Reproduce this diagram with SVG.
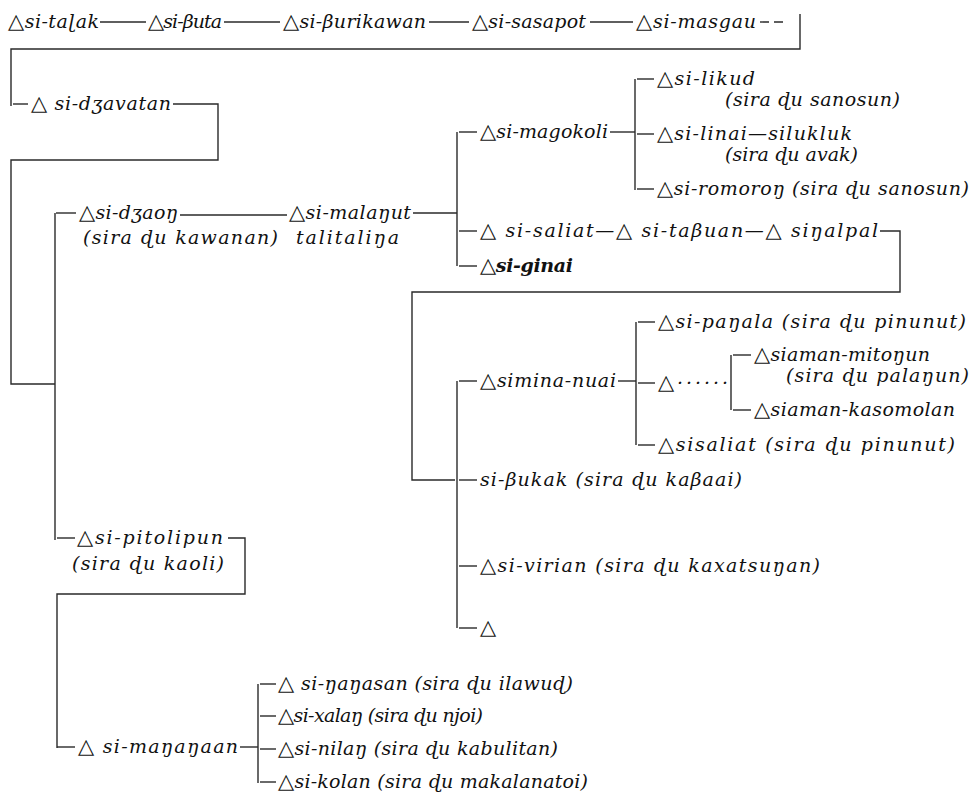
<svg xmlns="http://www.w3.org/2000/svg" width="980" height="796" viewBox="0 0 980 796">
<style>
text{font-family:"DejaVu Serif","Liberation Serif",serif;font-style:italic;font-size:19px;fill:#111111;}
.b{font-weight:bold;}
.t{font-style:normal;font-weight:normal;font-size:21px;font-family:"DejaVu Sans",sans-serif;}
line,polyline{stroke:#2a2a2a;stroke-width:1.4;fill:none;}
</style>
<rect width="980" height="796" fill="#ffffff"/>
<g id="connectors">
<line x1="100" y1="22" x2="146" y2="22"/>
<line x1="224" y1="22" x2="280" y2="22"/>
<line x1="429" y1="22" x2="469" y2="22"/>
<line x1="590" y1="22" x2="633" y2="22"/>
<line x1="760" y1="22" x2="786" y2="22" stroke-dasharray="9 5"/>
<polyline points="800,14 800,49 11,49 11,106"/>
<line x1="13" y1="104" x2="28" y2="104"/>
<polyline points="173,104 218,104 218,160 11,160 11,384 55,384"/>
<line x1="55" y1="213" x2="55" y2="540"/>
<line x1="56" y1="213" x2="76" y2="213"/>
<line x1="180" y1="215" x2="287" y2="215"/>
<line x1="413" y1="213" x2="457" y2="213"/>
<line x1="457" y1="132" x2="457" y2="266"/>
<line x1="459" y1="132" x2="477" y2="132"/>
<line x1="610" y1="132" x2="635" y2="132"/>
<line x1="635" y1="79" x2="635" y2="190"/>
<line x1="637" y1="79" x2="654" y2="79"/>
<line x1="637" y1="134" x2="654" y2="134"/>
<line x1="637" y1="189" x2="654" y2="189"/>
<line x1="459" y1="231" x2="477" y2="231"/>
<polyline points="880,231 900,231 900,292 412,292 412,480 455,480"/>
<line x1="459" y1="266" x2="477" y2="266"/>
<line x1="457" y1="381" x2="457" y2="628"/>
<line x1="459" y1="381" x2="477" y2="381"/>
<line x1="618" y1="381" x2="636" y2="381"/>
<line x1="636" y1="322" x2="636" y2="445"/>
<line x1="638" y1="322" x2="655" y2="322"/>
<line x1="638" y1="383" x2="655" y2="383"/>
<line x1="638" y1="445" x2="655" y2="445"/>
<line x1="731" y1="355" x2="731" y2="410"/>
<line x1="733" y1="355" x2="751" y2="355"/>
<line x1="733" y1="410" x2="751" y2="410"/>
<line x1="459" y1="480" x2="477" y2="480"/>
<line x1="459" y1="566" x2="477" y2="566"/>
<line x1="459" y1="628" x2="477" y2="628"/>
<line x1="57" y1="538" x2="75" y2="538"/>
<polyline points="228,538 245,538 245,594 57,594 57,748"/>
<line x1="57" y1="747" x2="75" y2="747"/>
<line x1="240" y1="747" x2="258" y2="747"/>
<line x1="258" y1="684" x2="258" y2="783"/>
<line x1="260" y1="684" x2="276" y2="684"/>
<line x1="260" y1="716" x2="276" y2="716"/>
<line x1="260" y1="749" x2="276" y2="749"/>
<line x1="260" y1="782" x2="276" y2="782"/>
</g>
<g id="n-talak"><text x="8" y="28" textLength="91"><tspan class="t">△</tspan>si-taɭak</text></g>
<g id="n-buta"><text x="148" y="28" textLength="74"><tspan class="t">△</tspan>si-βuta</text></g>
<g id="n-burikawan"><text x="283" y="28" textLength="143"><tspan class="t">△</tspan>si-βurikawan</text></g>
<g id="n-sasapot"><text x="472" y="28" textLength="114"><tspan class="t">△</tspan>si-sasapot</text></g>
<g id="n-masgau"><text x="636" y="28" textLength="120"><tspan class="t">△</tspan>si-masgau</text></g>
<g id="n-dzavatan"><text x="31" y="110" textLength="140"><tspan class="t">△</tspan> si-dʒavatan</text></g>
<g id="n-dzaon"><text x="79" y="219" textLength="99"><tspan class="t">△</tspan>si-dʒaoŋ</text><text x="83" y="244" textLength="195">(sira ɖu kawanan)</text></g>
<g id="n-malanut"><text x="289" y="219" textLength="122"><tspan class="t">△</tspan>si-malaŋut</text><text x="296" y="244" textLength="103">talitaliŋa</text></g>
<g id="n-magokoli"><text x="480" y="138" textLength="128"><tspan class="t">△</tspan>si-magokoli</text></g>
<g id="n-likud"><text x="657" y="85" textLength="98"><tspan class="t">△</tspan>si-likud</text><text x="725" y="106" textLength="175">(sira ɖu sanosun)</text></g>
<g id="n-linai"><text x="657" y="140" textLength="195"><tspan class="t">△</tspan>si-linai—silukluk</text><text x="725" y="161" textLength="133">(sira ɖu avak)</text></g>
<g id="n-romoron"><text x="657" y="195" textLength="312"><tspan class="t">△</tspan>si-romoroŋ (sira ɖu sanosun)</text></g>
<g id="n-saliat"><text x="480" y="237" textLength="398"><tspan class="t">△</tspan> si-saliat—<tspan class="t">△</tspan> si-taβuan—<tspan class="t">△</tspan> siŋalpal</text></g>
<g id="n-ginai"><text class="b" x="480" y="272" textLength="93"><tspan class="t">△</tspan>si-ginai</text></g>
<g id="n-simina"><text x="480" y="387" textLength="136"><tspan class="t">△</tspan>simina-nuai</text></g>
<g id="n-panala"><text x="658" y="328" textLength="308"><tspan class="t">△</tspan>si-paŋala (sira ɖu pinunut)</text></g>
<g id="n-dots"><text x="658" y="389" textLength="70"><tspan class="t">△</tspan>······</text></g>
<g id="n-mitonun"><text x="754" y="361" textLength="176"><tspan class="t">△</tspan>siaman-mitoŋun</text><text x="786" y="382" textLength="183">(sira ɖu palaŋun)</text></g>
<g id="n-kasomolan"><text x="754" y="416" textLength="201"><tspan class="t">△</tspan>siaman-kasomolan</text></g>
<g id="n-sisaliat"><text x="658" y="451" textLength="297"><tspan class="t">△</tspan>sisaliat (sira ɖu pinunut)</text></g>
<g id="n-bukak"><text x="480" y="486" textLength="262">si-βukak (sira ɖu kaβaai)</text></g>
<g id="n-virian"><text x="480" y="572" textLength="340"><tspan class="t">△</tspan>si-virian (sira ɖu kaxatsuŋan)</text></g>
<g id="n-tri"><text x="480" y="634"><tspan class="t">△</tspan></text></g>
<g id="n-pitolipun"><text x="77" y="544" textLength="146"><tspan class="t">△</tspan>si-pitolipun</text><text x="72" y="570" textLength="152">(sira ɖu kaoli)</text></g>
<g id="n-mananaan"><text x="78" y="753" textLength="160"><tspan class="t">△</tspan> si-maŋaŋaan</text></g>
<g id="n-nanasan"><text x="278" y="690" textLength="295"><tspan class="t">△</tspan> si-ŋaŋasan (sira ɖu ilawuɖ)</text></g>
<g id="n-xalan"><text x="278" y="722" textLength="205"><tspan class="t">△</tspan>si-xalaŋ (sira ɖu njoi)</text></g>
<g id="n-nilan"><text x="278" y="755" textLength="280"><tspan class="t">△</tspan>si-nilaŋ (sira ɖu kabulitan)</text></g>
<g id="n-kolan"><text x="278" y="788" textLength="310"><tspan class="t">△</tspan>si-kolan (sira ɖu makalanatoi)</text></g>
</svg>
